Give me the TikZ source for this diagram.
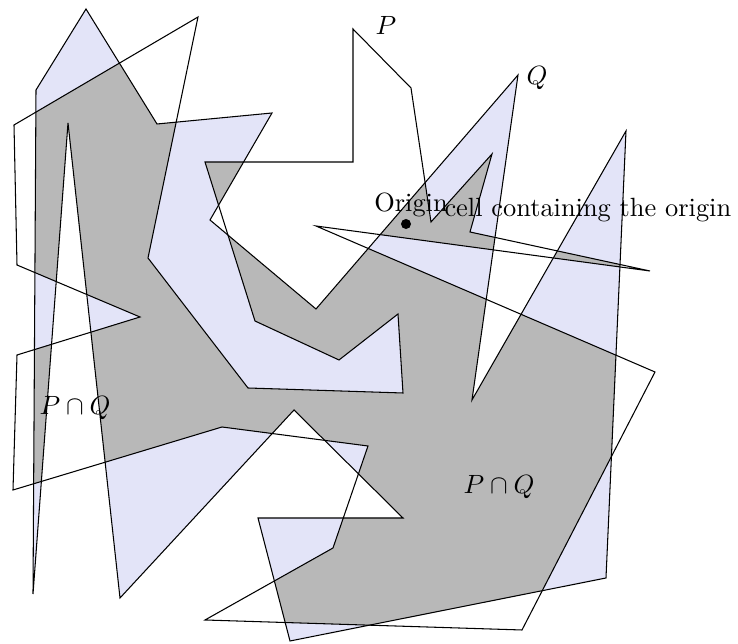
\documentclass[tikz,border=0pt]{standalone}
\usepackage{tikz}
\usetikzlibrary{positioning}

\definecolor{qfill}{RGB}{227,228,248}
\definecolor{pqfill}{RGB}{184,184,184}

% outlines of the two polygons
\newcommand{\polyP}{(353,29) -- (411,88) -- (431,222) -- (492,154) -- (470,232)
  -- (650,271) -- (316,226) -- (655,372) -- (522,630) -- (205,620) -- (333,548)
  -- (368,446) -- (222,427) -- (13,490) -- (17,355) -- (140,317) -- (17,265)
  -- (14,125) -- (198,17) -- (148,258) -- (248,388) -- (403,393) -- (398,314)
  -- (339,360) -- (255,321) -- (205,162) -- (353,162) -- cycle}
\newcommand{\polyQ}{(86,9) -- (157,124) -- (272,113) -- (210,220) -- (316,309)
  -- (518,75) -- (472,400) -- (626,131) -- (606,578) -- (290,641) -- (258,518)
  -- (403,518) -- (294,410) -- (120,598) -- (68,123) -- (33,594) -- (36,90) -- cycle}

\begin{document}
\begin{tikzpicture}[
    x=0.379pt, y=-0.379pt,
    outline/.style={draw=black, line join=miter},
    lbl/.style={inner sep=0pt, anchor=base}
  ]
    \useasboundingbox (0,0) rectangle (738,644);
    \fill[qfill] \polyQ;
    \begin{scope}
      \clip \polyP;
      \fill[pqfill] \polyQ;
    \end{scope}
    \draw[outline] \polyP;
    \draw[outline] \polyQ;
    \coordinate (origin) at (406,224);
    \fill (origin) circle (1.9pt);
    \node[lbl] (origintext) at (411,211.7) {Origin};
    \node[lbl, anchor=base west] (cell) at (444,216.7) {cell containing the origin};
    \node[lbl] (plabel) at (386,35) {$P$};
    \node[lbl] (qlabel) at (537,85) {$Q$};
    \node[lbl] (capleft) at (75,415) {$P\cap Q$};
    \node[lbl] (capright) at (499,494) {$P\cap Q$};
  \end{tikzpicture}
\end{document}
